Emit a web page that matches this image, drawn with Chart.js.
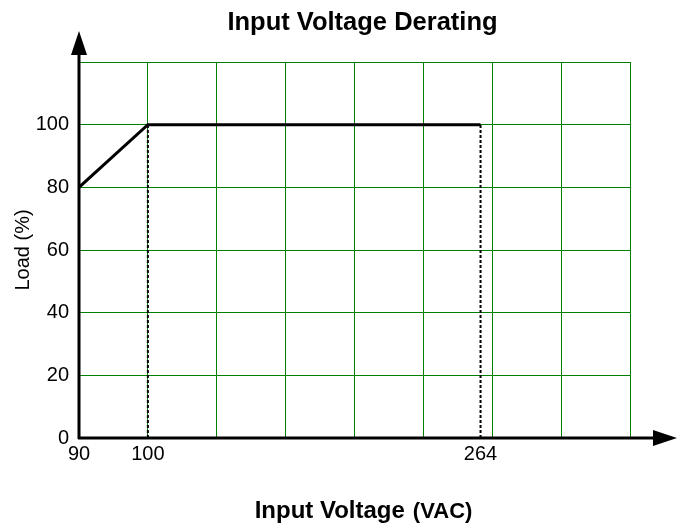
<!DOCTYPE html>
<html>
<head>
<meta charset="utf-8">
<script src="https://cdn.jsdelivr.net/npm/chart.js@4"></script>
<style>
  html, body { margin: 0; padding: 0; background: #fff; }
  #wrap { width: 685px; height: 529px; }
</style>
</head>
<body>
<div id="wrap"><canvas id="derating"></canvas></div>
<script>
// Input voltage points and the load allowed at each one
const voltageLabels = ['90', '100', '264'];
const loadValues = [80, 100, 100];
// where each voltage sits on the (non-linear) drawing axis, in grid cells
const voltagePos = [0, 1, 5.83];
const gridCells = 8;
const loadTicks = [0, 20, 40, 60, 80, 100];

const font = 'Arial, "Liberation Sans", sans-serif';

const mainLine = voltagePos.map((x, i) => ({ x: x, y: loadValues[i] }));
const dropLines = [1, 2].map(i => [{ x: voltagePos[i], y: 0 }, { x: voltagePos[i], y: loadValues[i] }]);

// axes with arrows and the two titles
const decorations = {
    id: 'decorations',
    afterDraw(chart) {
        const ctx = chart.ctx;
        const area = chart.chartArea;
        const x0 = chart.scales.x.getPixelForValue(0);
        const y0 = chart.scales.y.getPixelForValue(0);
        ctx.save();
        ctx.strokeStyle = '#000';
        ctx.fillStyle = '#000';
        ctx.lineWidth = 3;
        ctx.beginPath();
        ctx.moveTo(x0, y0 + 1);
        ctx.lineTo(x0, area.top - 8);
        ctx.moveTo(x0 - 1, y0);
        ctx.lineTo(area.right + 24, y0);
        ctx.stroke();
        // y arrow
        ctx.beginPath();
        ctx.moveTo(x0, area.top - 31);
        ctx.lineTo(x0 - 8, area.top - 7);
        ctx.lineTo(x0 + 8, area.top - 7);
        ctx.closePath();
        ctx.fill();
        // x arrow
        ctx.beginPath();
        ctx.moveTo(area.right + 47, y0);
        ctx.lineTo(area.right + 23, y0 - 8);
        ctx.lineTo(area.right + 23, y0 + 8);
        ctx.closePath();
        ctx.fill();

        ctx.textBaseline = 'alphabetic';
        ctx.textAlign = 'center';
        ctx.font = 'bold 25.5px ' + font;
        ctx.fillText('Input Voltage Derating', 362.5, 30);

        const part1 = 'Input Voltage';
        const part2 = '(VAC)';
        const gap = 8;
        ctx.font = 'bold 24px ' + font;
        const w1 = ctx.measureText(part1).width;
        ctx.font = 'bold 22px ' + font;
        const w2 = ctx.measureText(part2).width;
        const startX = 363.5 - (w1 + gap + w2) / 2;
        ctx.textAlign = 'left';
        ctx.font = 'bold 24px ' + font;
        ctx.fillText(part1, startX, 518);
        ctx.font = 'bold 22px ' + font;
        ctx.fillText(part2, startX + w1 + gap, 518);
        ctx.restore();
    }
};

new Chart(document.getElementById('derating'), {
    type: 'line',
    data: {
        datasets: [
            {
                data: mainLine,
                borderColor: '#000',
                borderWidth: 3,
                pointRadius: 0,
                tension: 0,
                xAxisID: 'x'
            },
            ...dropLines.map(d => ({
                data: d,
                borderColor: '#000',
                borderWidth: 2,
                borderDash: [3, 2],
                pointRadius: 0,
                xAxisID: 'x'
            }))
        ]
    },
    options: {
        responsive: true,
        maintainAspectRatio: false,
        animation: false,
        layout: { padding: { top: 62, right: 55, left: 0, bottom: 0 } },
        plugins: {
            legend: { display: false },
            tooltip: { enabled: false }
        },
        scales: {
            x: {
                type: 'linear',
                min: 0,
                max: gridCells,
                ticks: { display: false, stepSize: 1 },
                grid: { color: '#008000', lineWidth: 1, drawTicks: false },
                border: { display: false },
                afterFit(scale) { scale.height = 0; }
            },
            xl: {
                type: 'linear',
                position: 'bottom',
                min: 0,
                max: gridCells,
                grid: { display: false, drawTicks: false },
                border: { display: false },
                afterBuildTicks(scale) {
                    scale.ticks = voltagePos.map(v => ({ value: v }));
                },
                ticks: {
                    autoSkip: false,
                    maxRotation: 0,
                    padding: 4,
                    color: '#000',
                    font: { family: font, size: 20 },
                    callback: (value) => {
                        const i = voltagePos.indexOf(value);
                        return i >= 0 ? voltageLabels[i] : '';
                    }
                },
                afterFit(scale) { scale.height = 91; }
            },
            y: {
                min: 0,
                max: 120,
                afterBuildTicks(scale) {
                    scale.ticks = loadTicks.concat([120]).map(v => ({ value: v }));
                },
                ticks: {
                    padding: 10,
                    color: '#000',
                    font: { family: font, size: 20 },
                    callback: (value) => loadTicks.includes(value) ? String(value) : ''
                },
                grid: { color: '#008000', lineWidth: 1, drawTicks: false },
                border: { display: false },
                title: {
                    display: true,
                    text: 'Load (%)',
                    color: '#000',
                    font: { family: font, size: 20 },
                    padding: { top: 11, bottom: 0 }
                },
                afterFit(scale) { scale.width = 79; }
            }
        }
    },
    plugins: [decorations]
});
</script>
</body>
</html>
